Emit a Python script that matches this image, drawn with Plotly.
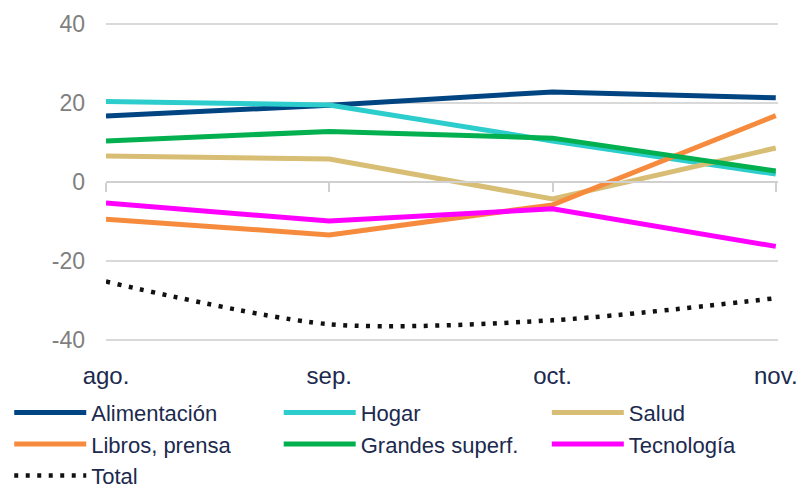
import plotly.graph_objects as go

# Datos
meses = ["ago.", "sep.", "oct.", "nov."]
alimentacion = [16.7, 19.4, 22.8, 21.3]
hogar = [20.4, 19.5, 10.4, 2.0]
salud = [6.6, 5.8, -4.3, 8.6]
libros = [-9.4, -13.4, -5.8, 16.8]
grandes = [10.4, 12.8, 11.1, 2.8]
tecnologia = [-5.3, -9.9, -6.8, -16.3]
total = [-25.2, -36.0, -35.0, -29.4]

FONT = "Liberation Sans, Arial, sans-serif"
NAVY = "#1b2a4e"

# (nombre, valores, color, leyenda/columna)
series = [
    ("Alimentación", alimentacion, "#004481", "legend"),
    ("Hogar", hogar, "#2dcccd", "legend2"),
    ("Salud", salud, "#d8be75", "legend3"),
    ("Libros, prensa", libros, "#f78b3d", "legend"),
    ("Grandes superf.", grandes, "#02b050", "legend2"),
    ("Tecnología", tecnologia, "#ff00ff", "legend3"),
]

fig = go.Figure()
for name, vals, color, leg in series:
    fig.add_trace(go.Scatter(
        x=meses, y=vals, name=name, mode="lines",
        line=dict(color=color, width=5), legend=leg,
        hoverinfo="skip",
    ))

fig.add_trace(go.Scatter(
    x=meses, y=total, name="Total", mode="lines", legend="legend",
    line=dict(color="#111111", width=4.5, dash="4px,7.5px", shape="spline", smoothing=0.8),
    hoverinfo="skip",
))

# eje de categorías cruzando en 0 (estilo Excel)
fig.add_trace(go.Scatter(x=meses, y=[None] * 4, xaxis="x2", showlegend=False, hoverinfo="skip"))

leg_common = dict(
    orientation="v", xanchor="left", y=-0.155, yanchor="top",
    itemwidth=72, font=dict(size=22, color=NAVY), bgcolor="rgba(0,0,0,0)",
    traceorder="normal",
)

fig.update_layout(
    width=803, height=488,
    margin=dict(l=106, r=25, t=22, b=146, autoexpand=False),
    plot_bgcolor="white", paper_bgcolor="white",
    font=dict(family=FONT, size=22, color=NAVY),
    xaxis=dict(
        type="category", range=[0, 3.01], showgrid=False, zeroline=False,
        showline=False, ticks="", ticklabelstandoff=17,
        tickfont=dict(size=24, color=NAVY),
    ),
    xaxis2=dict(
        type="category", range=[0, 3.01], overlaying="x", anchor="free",
        position=0.5, showline=True, linecolor="#d0d0d0", linewidth=2,
        ticks="outside", ticklen=9, tickcolor="#d0d0d0", tickwidth=2,
        showticklabels=False, showgrid=False,
    ),
    yaxis=dict(
        range=[-40.5, 40.5], tickvals=[-40, -20, 0, 20, 40],
        ticktext=["-40", "-20", "0", "20", "40"],
        showgrid=True, gridcolor="#d9d9d9", gridwidth=2,
        zeroline=False, showline=False, ticklabelstandoff=20,
        tickfont=dict(size=23, color="#7f7f7f"),
    ),
    legend=dict(x=-0.144, **leg_common),
    legend2=dict(x=0.257, **leg_common),
    legend3=dict(x=0.656, **leg_common),
    showlegend=True,
)

fig.write_html(
    "out.html",
    config={"displayModeBar": False},
    post_script="document.body.style.margin='0';",
)
